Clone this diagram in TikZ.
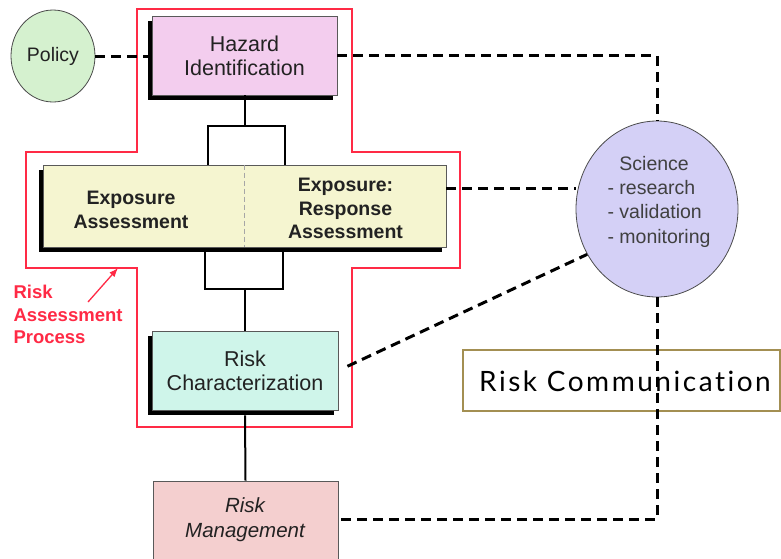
\documentclass[tikz,border=0pt]{standalone}
\usepackage{fontspec}
\setmainfont{Liberation Sans}
\newfontfamily\commfont[LetterSpace=9,Ligatures={NoCommon}]{Lato}
\usetikzlibrary{shapes.geometric,shadows,arrows.meta}

\definecolor{policyfill}{HTML}{D5F1CF}
\definecolor{hazfill}{HTML}{F3CDEE}
\definecolor{expofill}{HTML}{F5F5D0}
\definecolor{charfill}{HTML}{CFF5EA}
\definecolor{mgmtfill}{HTML}{F4CFCF}
\definecolor{scifill}{HTML}{D4D0F6}
\definecolor{procred}{HTML}{FF2A45}
\definecolor{commgold}{HTML}{A38F52}
\definecolor{inkgray}{HTML}{222222}

\tikzset{
  stepbox/.style={draw=gray!70!black, line width=0.8pt, rectangle, inner sep=0pt,
    align=center, text=inkgray, font=\fontsize{21.5}{24}\selectfont},
  boxshade/.style={drop shadow={shadow xshift=-4.5pt, shadow yshift=-5pt,
    fill=black, opacity=1}},
  bubble/.style={draw=gray!60!black, line width=0.8pt, ellipse, inner sep=0pt},
  link/.style={draw=black, line width=2pt},
  dashline/.style={draw=black, line width=3pt, dash pattern=on 10pt off 6pt},
  outline/.style={draw=procred, line width=1.2pt},
}

\begin{document}
\begin{tikzpicture}[x=1pt,y=-1pt]
\useasboundingbox (0,0) rectangle (781,558);
\clip (0,0) rectangle (781,558);

% red outline of the assessment process
\draw[outline] (137,9) -- (352,9) -- (352,152) -- (460,152) -- (460,268)
  -- (352,268) -- (352,427) -- (137,427) -- (137,268) -- (26,268)
  -- (26,152) -- (137,152) -- cycle;

% process boxes
\node[stepbox, boxshade, fill=hazfill, minimum width=185pt, minimum height=79pt]
  (haz) at (244.5,55.5) {Hazard\\Identification};
\node[stepbox, boxshade, fill=expofill, minimum width=403pt, minimum height=82pt]
  (expo) at (244.5,206) {};
\draw[gray!70, line width=0.8pt, dash pattern=on 5pt off 3pt]
  (expo.north) -- (expo.south);
\node[align=center, text=inkgray, font=\bfseries\fontsize{19.5}{24}\selectfont]
  (expoL) at (131,210) {Exposure\\Assessment};
\node[align=center, text=inkgray, font=\bfseries\fontsize{19.5}{23.5}\selectfont]
  (expoR) at (345.5,208.5) {Exposure:\\Response\\Assessment};
\node[stepbox, boxshade, fill=charfill, minimum width=186pt, minimum height=79pt]
  (rchar) at (245,370.5) {Risk\\Characterization};
\node[stepbox, fill=mgmtfill, minimum width=185pt, minimum height=94pt]
  (rmgmt) at (245.5,528) {};
\node[align=center, text=inkgray, font=\itshape\fontsize{20.5}{25}\selectfont]
  (rmgmtT) at (245,519.5) {Risk\\Management};

% side bubbles
\node[bubble, fill=policyfill, minimum width=84pt, minimum height=92pt,
  text=inkgray, font=\fontsize{19.5}{23}\selectfont] (policy) at (53,56) {Policy};
\node[bubble, fill=scifill, minimum width=162pt, minimum height=176pt]
  (sci) at (657,209) {};
\node[anchor=west, align=left, text=black!75, font=\fontsize{19.5}{24.3}\selectfont]
  (sciT) at (604,201.5) {\hphantom{- }Science\\- research\\- validation\\- monitoring};

% solid connectors of the process
\coordinate (bl1) at (208,126);
\coordinate (br1) at (285,126);
\coordinate (bl2) at (205,289);
\coordinate (br2) at (283,289);
\draw[link] (haz.south) -- (haz.south |- bl1);
\draw[link] (bl1 |- expo.north) -- (bl1) -- (br1) -- (br1 |- expo.north);
\draw[link] ([yshift=-5pt]bl2 |- expo.south) -- (bl2) -- (br2) -- ([yshift=-5pt]br2 |- expo.south);
\draw[link] (rchar.north |- bl2) -- (rchar.north);
\draw[link] ([yshift=-5pt]rchar.south) -- (rmgmt.north);

% label of the outline
\node[anchor=west, align=left, text=procred, font=\bfseries\fontsize{18.5}{22.5}\selectfont]
  (proclabel) at (10,314.5) {Risk\\Assessment\\Process};
\coordinate (arrtail) at (88,302);
\coordinate (arrtip) at (118,268);
\draw[procred, line width=1.3pt, -{Latex[length=9pt,width=7pt]}] (arrtail) -- (arrtip);

% communication box
\node[draw=commgold, line width=2pt, fill=white, minimum width=317pt,
  minimum height=61pt, inner sep=0pt] (comm) at (621.5,380.5) {};
\node[anchor=west, inner sep=0pt, font=\commfont\fontsize{28}{32}\selectfont]
  (commT) at (479,381) {Risk Communication};

% dashed links
\draw[dashline] (policy.east) -- (policy.east -| haz.west);
\draw[dashline] (haz.east) -| (sci.north);
\draw[dashline] ([yshift=18pt]expo.east) -- ([yshift=18pt]expo.east -| sci.west);
\draw[dashline, shorten <=10pt] (rchar.east) -- (sci.213);
\draw[dashline] (sci.south) |- ([yshift=9pt]rmgmt.east);
\end{tikzpicture}
\end{document}
